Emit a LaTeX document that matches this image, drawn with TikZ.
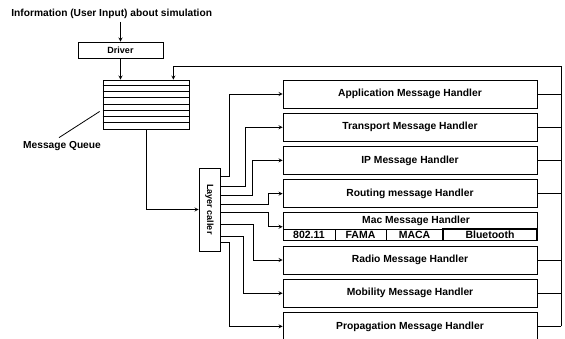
\documentclass[tikz,border=0pt]{standalone}
\usepackage{fontspec}
\setmainfont{Liberation Sans}
\tikzset{
  handler/.style={draw,minimum width=254pt,minimum height=28pt,inner sep=0pt,font=\fontsize{10.3}{12}\selectfont\bfseries},
  cell/.style={draw,minimum height=11.6pt,inner sep=0pt,font=\fontsize{10.5}{11}\selectfont\bfseries},
  lbl/.style={font=\fontsize{10.2}{12}\selectfont\bfseries}
}

\begin{document}
\begin{tikzpicture}[x=1pt,y=-1pt,>=stealth,line width=0.8pt]
  \useasboundingbox (0,0) rectangle (565,339);
  \node[lbl,anchor=west,inner sep=0pt] (info) at (11,14) {Information (User Input) about simulation};
  \node[draw,minimum width=85pt,minimum height=16pt,inner sep=0pt,font=\fontsize{9}{10}\selectfont\bfseries] (driver) at (120.5,50) {Driver};
  \draw[->] (driver.north |- 0,22) -- (driver.north);
  \node[draw,minimum width=86pt,minimum height=49pt] (queue) at (146,104.5) {};
  \foreach \i in {1,...,7}
    \draw ([yshift=-\i*6.1pt]queue.north west) -- ([yshift=-\i*6.1pt]queue.north east);
  \draw[->] (driver.south) -- (driver.south |- queue.north);
  \node[lbl] (mq) at (62,146) {Message Queue};
  \draw ([xshift=-3pt]mq.north) -- ([shift={(-3pt,-7pt)}]queue.west);
  \node[draw,minimum width=21pt,minimum height=83pt,inner sep=0pt,font=\fontsize{9}{10}\selectfont\bfseries] (caller) at (209.5,209.5) {\rotatebox{-90}{Layer caller}};
  \draw[->] (queue.south) |- (caller.west);
  \foreach \n/\y/\t in {app/94/Application Message Handler,trans/127.2/Transport Message Handler,ip/160.4/IP Message Handler,rout/193.6/Routing message Handler,radio/260/Radio Message Handler,mob/293.2/Mobility Message Handler,prop/326.4/Propagation Message Handler}
    \node[handler] (\n) at (410,\y) {\t};
  \node[handler] (mac) at (410,226.8) {};
  \node[font=\fontsize{10.3}{12}\selectfont\bfseries] (mactxt) at (416,221) {Mac Message Handler};
  \node[cell,minimum width=52pt] (wifi) at (309,235) {802.11};
  \node[cell,minimum width=51pt] (fama) at (360.5,235) {FAMA};
  \node[cell,minimum width=57pt] (maca) at (414.5,235) {MACA};
  \node[cell,minimum width=94pt,line width=1.4pt] (bt) at (490,235) {Bluetooth};
  \foreach \h/\dy/\dx in {app/9/9,trans/19/25,ip/28/32,rout/37/48,mac/45/48,radio/57/33,mob/69/23,prop/75/9}
    \draw[->] ([yshift=-\dy pt]caller.north east) -- ++(\dx,0) |- (\h.west);
  \coordinate (bustop) at (561,66);
  \draw (prop.east -| bustop) -- (bustop);
  \draw[->] (bustop) -| ([xshift=-16pt]queue.north east);
  \foreach \h in {app,trans,ip,rout,radio,mob,prop}
    \draw (\h.east) -- (\h.east -| bustop);
\end{tikzpicture}
\end{document}
